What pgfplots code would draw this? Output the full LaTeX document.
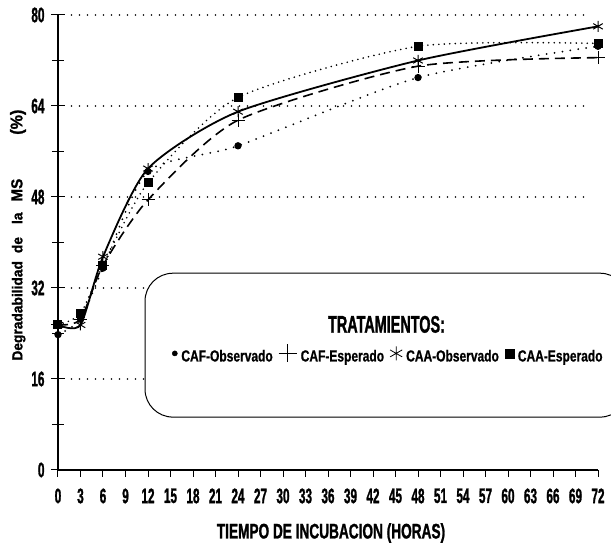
\documentclass[border=0pt]{standalone}
\usepackage{pgfplots}
\pgfplotsset{compat=1.18}
\usepackage{fontspec}
\setmainfont{Liberation Sans}
\newfontfamily\tickfont[FakeStretch=0.56, FakeBold=1.2]{Liberation Sans}
\newfontfamily\labfont[FakeStretch=0.65, FakeBold=1.2]{Liberation Sans}
\newfontfamily\titfont[FakeStretch=0.6, FakeBold=1.2]{Liberation Sans}
\newfontfamily\legfont[FakeStretch=0.75, FakeBold=0.8]{Liberation Sans}
\newfontfamily\ylabfont[FakeStretch=0.95, FakeBold=1.2]{Liberation Sans}
\begin{document}
\begin{tikzpicture}
\path[use as bounding box] (-58pt,-75pt) rectangle (553pt,470pt);
\begin{axis}[
  at={(0pt,0pt)}, anchor=south west,
  scale only axis, width=540pt, height=455pt,
  xmin=0, xmax=72, ymin=0, ymax=80,
  clip=false,
  axis lines*=left,
  axis line style={line width=1.2pt},
  xtick={0,3,...,72},
  xticklabels={0,3,6,9,12,15,18,21,24,27,30,33,36,39,42,45,48,51,54,57,60,63,66,69,72},
  ytick={0,16,...,80},
  yticklabels={0,16,32,48,64,80},
  minor ytick={8,24,...,72},
  xtick align=outside, ytick align=center,
  major tick length=14pt, minor tick length=12pt,
  x tick style={/pgfplots/major tick length=7pt},
  tick style={line width=1pt, black},
  xticklabel style={font=\tickfont\bfseries\fontsize{21}{22}\selectfont, yshift=-1pt},
  yticklabel style={font=\tickfont\bfseries\fontsize{21}{22}\selectfont, xshift=-3pt},
  legend columns=4,
  legend style={at={(axis cs:15.2,20.5)}, anchor=west, draw=none, fill=none,
    font=\legfont\bfseries\fontsize{16}{17}\selectfont,
    /tikz/every even column/.append style={column sep=4pt},
    /tikz/every odd column/.append style={column sep=2pt},
    inner sep=0pt},
  legend image code/.code={\draw[mark repeat=2,mark phase=2,#1] plot coordinates {(0cm,0cm)(0.12cm,0cm)(0.24cm,0cm)};},
]
% dotted reference lines
\pgfplotsinvokeforeach{16,32,48,64,80}{
  \draw[line width=1.6pt, dash pattern=on 0pt off 8pt, line cap=round] (axis cs:1.8,#1) -- (axis cs:71,#1);
}
% legend frame
\draw[line width=1pt, fill=white, rounded corners=28pt] (axis cs:11.6,9.3) rectangle (axis cs:76,34.6);
\node[font=\titfont\bfseries\fontsize{24}{26}\selectfont] at (axis cs:43.8,25.6) {TRATAMIENTOS:};

% CAF-Observado (dotted, dots)
\addplot[forget plot, black, line width=2pt, dash pattern=on 0pt off 8pt, line cap=round, smooth, tension=0.4,
  mark=*, mark size=2.6, mark options={solid}] coordinates {
  (0,23.8) (3,26.5) (6,35.5) (12,52.5) (24,57) (48,69) (72,74.5)};
% CAF-Esperado (dashed, plus)
\addplot[forget plot, black, line width=1.6pt, dash pattern=on 10pt off 6pt, smooth, tension=0.4,
  mark=+, mark size=6.5, mark options={solid, line width=1pt}] coordinates {
  (0,25.5) (3,26.5) (6,36) (12,47.5) (24,61.5) (48,71) (72,72.5)};
% CAA-Observado (solid, asterisk)
\addplot[forget plot, black, line width=1.8pt, smooth, tension=0.4,
  mark=asterisk, mark size=5.5, mark options={solid, line width=1pt}] coordinates {
  (0,25.5) (3,25.5) (6,37.5) (12,53) (24,63) (48,72) (72,78)};
% CAA-Esperado (dotted dense, square)
\addplot[forget plot, black, line width=1.8pt, dash pattern=on 0pt off 5.5pt, line cap=round, smooth, tension=0.4,
  mark=square*, mark size=3.6, mark options={solid, rounded corners=1.5pt}] coordinates {
  (0,25.5) (3,27.5) (6,36) (12,50.5) (24,65.5) (48,74.5) (72,75)};

\addlegendimage{only marks, mark=*, mark size=2.6}
\addlegendentry{\raisebox{-6pt}{CAF-Observado}}
\addlegendimage{only marks, mark=+, mark size=9, mark options={line width=0.8pt}}
\addlegendentry{\raisebox{-6pt}{CAF-Esperado}}
\addlegendimage{only marks, mark=asterisk, mark size=7, mark options={line width=0.8pt}}
\addlegendentry{\raisebox{-6pt}{CAA-Observado}}
\addlegendimage{only marks, mark=square*, mark size=4.5, mark options={rounded corners=2pt}}
\addlegendentry{\raisebox{-6pt}{CAA-Esperado}}

\node[font=\labfont\bfseries\fontsize{21}{22}\selectfont] at (axis cs:36.4,0) [yshift=-63pt] {TIEMPO DE INCUBACION (HORAS)};
\node[rotate=90, font=\ylabfont\bfseries\fontsize{14.5}{16}\selectfont] at ([xshift=-40pt]axis cs:0,41.3)
  {Degradabilidad\hspace{8pt}de\hspace{13pt}la\hspace{11pt}{\fontsize{16}{17}\selectfont MS}\hspace{44pt}{\fontsize{17}{18}\selectfont(\%)}};
\end{axis}
\end{tikzpicture}
\end{document}
